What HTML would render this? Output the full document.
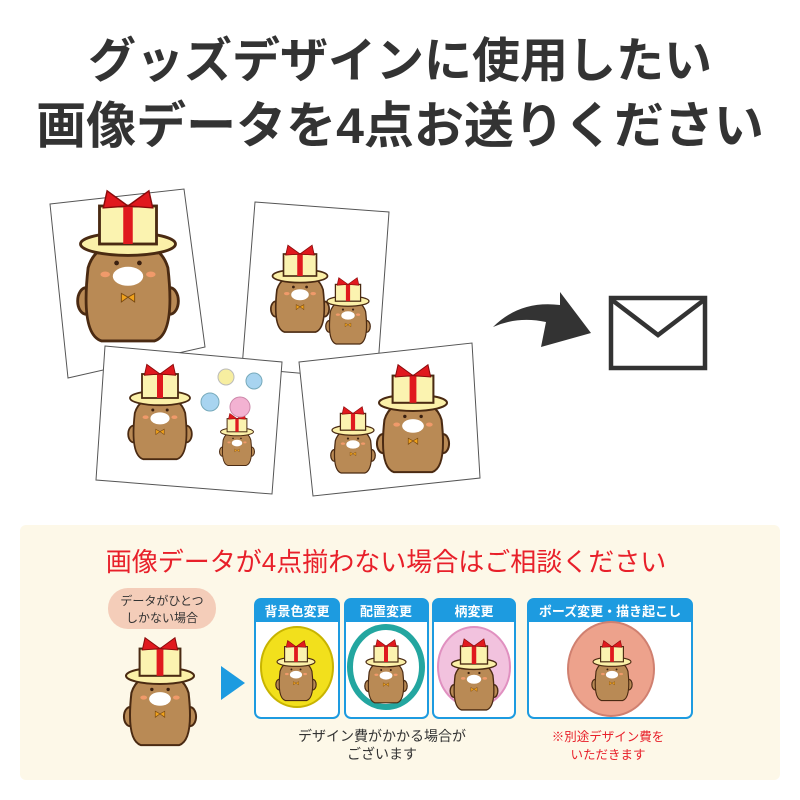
<!DOCTYPE html>
<html><head><meta charset="utf-8"><style>
html,body{margin:0;padding:0;background:#fff}
svg{display:block}
text{font-family:"Liberation Sans","Noto Sans CJK JP",sans-serif}
</style></head><body>
<svg width="800" height="800" viewBox="0 0 800 800" xmlns="http://www.w3.org/2000/svg">
<defs>
<g id="bear">
 <ellipse cx="-44" cy="20" rx="9" ry="14" fill="#b98a55" stroke="#4a2a12" stroke-width="3"/>
 <ellipse cx="44" cy="20" rx="9" ry="14" fill="#b98a55" stroke="#4a2a12" stroke-width="3"/>
 <path d="M-42,-15 Q-50,55 -28,62 L28,62 Q50,55 42,-15 Q34,-42 0,-42 Q-34,-42 -42,-15Z" fill="#b98a55" stroke="#4a2a12" stroke-width="3"/>
 <ellipse cx="0" cy="-6" rx="16" ry="10" fill="#fff"/>
 <ellipse cx="-24" cy="-8" rx="5" ry="3" fill="#f09a6a"/>
 <ellipse cx="24" cy="-8" rx="5" ry="3" fill="#f09a6a"/>
 <circle cx="-12" cy="-20" r="2.5" fill="#3a2010"/><circle cx="12" cy="-20" r="2.5" fill="#3a2010"/>
 <path d="M-7,12 L0,16 L7,12 L7,21 L0,16 L-7,21Z" fill="#f0a21c" stroke="#7a4a10" stroke-width="1"/>
 <ellipse cx="0" cy="-40" rx="50" ry="12" fill="#fbf0a8" stroke="#4a2a12" stroke-width="3"/>
 <rect x="-30" y="-80" width="60" height="40" fill="#fbf3b0" stroke="#4a2a12" stroke-width="3"/>
 <rect x="-5" y="-80" width="10" height="40" fill="#e0191e"/>
 <path d="M0,-80 L-22,-96 L-26,-78Z M0,-80 L22,-96 L26,-78Z" fill="#e0191e" stroke="#8a0a0a" stroke-width="1.5"/>
</g>
</defs>

<text x="400" y="77" text-anchor="middle" font-size="48" font-weight="bold" fill="#333">グッズデザインに使用したい</text>
<text x="400" y="143" text-anchor="middle" font-size="50" font-weight="bold" fill="#333">画像データを4点お送りください</text>

<polygon points="50,204 184,189 205,347 68,378" fill="#fff" stroke="#555" stroke-width="1"/>
<use href="#bear" transform="translate(128,282) scale(0.95)"/>
<polygon points="255,202 389,212 377,380 242,368" fill="#fff" stroke="#555" stroke-width="1"/>
<use href="#bear" transform="translate(300,298) scale(0.55)"/>
<use href="#bear" transform="translate(348,318) scale(0.42)"/>
<polygon points="105,346 282,362 272,494 96,480" fill="#fff" stroke="#555" stroke-width="1"/>
<use href="#bear" transform="translate(160,422) scale(0.6)"/>
<use href="#bear" transform="translate(237,445) scale(0.33)"/>
<circle cx="226" cy="377" r="8" fill="#f7eea0" stroke="#bbb"/>
<circle cx="254" cy="381" r="8" fill="#a8d4f0" stroke="#7ab"/>
<circle cx="210" cy="402" r="9" fill="#a8d4f0" stroke="#7ab"/>
<circle cx="240" cy="407" r="10" fill="#f3b2d2" stroke="#c8a"/>
<polygon points="299,362 472,343 480,478 313,496" fill="#fff" stroke="#555" stroke-width="1"/>
<use href="#bear" transform="translate(413,430) scale(0.68)"/>
<use href="#bear" transform="translate(353,447) scale(0.42)"/>

<path d="M493,327 Q520,300 560,305 L560,292 L591,333 L541,347 L546,322 Q518,316 493,327Z" fill="#333"/>
<rect x="611" y="298" width="94" height="70" fill="#fff" stroke="#333" stroke-width="4.5"/>
<polyline points="612,300 658,335 704,300" fill="none" stroke="#333" stroke-width="4.5"/>

<rect x="20" y="525" width="760" height="255" rx="6" fill="#fdf8e8"/>
<text x="386" y="571" text-anchor="middle" font-size="26" fill="#e8202a">画像データが4点揃わない場合はご相談ください</text>
<rect x="108" y="588" width="108" height="41" rx="20" fill="#f4cdb9"/>
<text x="162" y="605" text-anchor="middle" font-size="12" fill="#333">データがひとつ</text>
<text x="162" y="622" text-anchor="middle" font-size="12" fill="#333">しかない場合</text>
<use href="#bear" transform="translate(160,703) scale(0.68)"/>
<polygon points="221,666 245,683 221,700" fill="#1d9be0"/>

<g stroke="#1d9be0" stroke-width="2">
<rect x="255" y="599" width="84" height="119" rx="6" fill="#fff"/>
<rect x="345" y="599" width="83" height="119" rx="6" fill="#fff"/>
<rect x="433" y="599" width="82" height="119" rx="6" fill="#fff"/>
<rect x="528" y="599" width="164" height="119" rx="6" fill="#fff"/>
</g>
<g fill="#1d9be0">
<path d="M255,605 a6,6 0 0 1 6,-6 h72 a6,6 0 0 1 6,6 v17 h-84Z"/>
<path d="M345,605 a6,6 0 0 1 6,-6 h71 a6,6 0 0 1 6,6 v17 h-83Z"/>
<path d="M433,605 a6,6 0 0 1 6,-6 h70 a6,6 0 0 1 6,6 v17 h-82Z"/>
<path d="M528,605 a6,6 0 0 1 6,-6 h152 a6,6 0 0 1 6,6 v17 h-164Z"/>
</g>
<g fill="#fff" font-size="13" text-anchor="middle" font-weight="bold">
<text x="297" y="616">背景色変更</text>
<text x="386" y="616">配置変更</text>
<text x="474" y="616">柄変更</text>
<text x="610" y="616">ポーズ変更・描き起こし</text>
</g>
<ellipse cx="297" cy="667" rx="36" ry="40" fill="#f2e01c" stroke="#c8b400" stroke-width="2"/>
<use href="#bear" transform="translate(296,677) scale(0.38)"/>
<ellipse cx="386" cy="667" rx="36" ry="40" fill="#fff" stroke="#23a6a0" stroke-width="6"/>
<use href="#bear" transform="translate(386,678) scale(0.4)"/>
<ellipse cx="474" cy="667" rx="36" ry="40" fill="#f2c2de" stroke="#e090c0" stroke-width="2"/>
<use href="#bear" transform="translate(474,682) scale(0.45)"/>
<ellipse cx="611" cy="669" rx="43" ry="47" fill="#eda28c" stroke="#d08070" stroke-width="2"/>
<use href="#bear" transform="translate(612,677) scale(0.38)"/>

<text x="382" y="741" text-anchor="middle" font-size="14" fill="#333">デザイン費がかかる場合が</text>
<text x="382" y="759" text-anchor="middle" font-size="14" fill="#333">ございます</text>
<text x="608" y="741" text-anchor="middle" font-size="12.5" fill="#e8202a">※別途デザイン費を</text>
<text x="608" y="759" text-anchor="middle" font-size="12.5" fill="#e8202a">いただきます</text>
</svg>
</body></html>
